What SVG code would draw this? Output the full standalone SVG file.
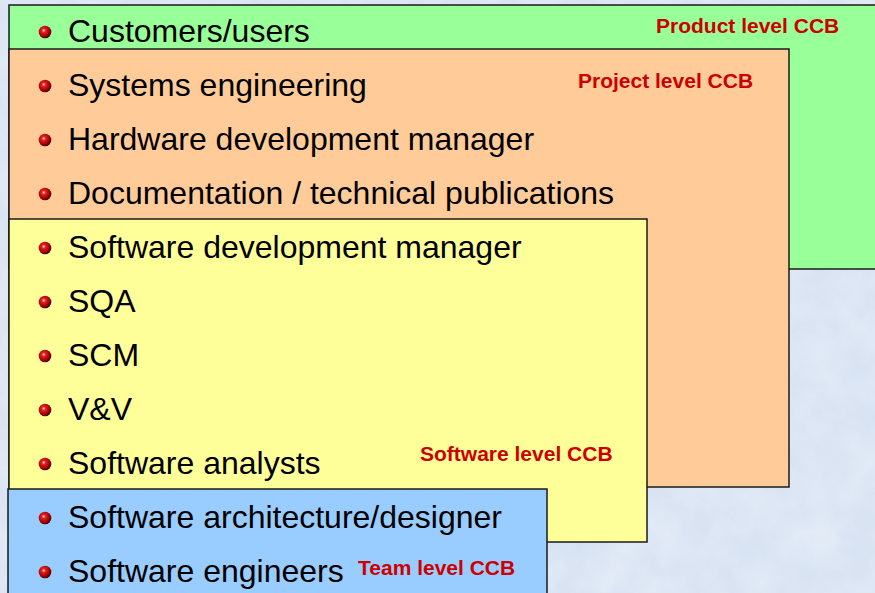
<svg xmlns="http://www.w3.org/2000/svg" width="875" height="593" viewBox="0 0 875 593">
<style>
.item{font-family:"Liberation Sans",Arial,sans-serif;font-size:32px;fill:#000}
.lbl{font-family:"Liberation Sans",Arial,sans-serif;font-size:21px;font-weight:bold;fill:#cc0000}
.box{stroke:#1a1a1a;stroke-width:1.5}
.ball{fill:url(#ball)}
</style>
<defs>
<radialGradient id="ball" cx="0.4" cy="0.38" r="0.62">
<stop offset="0" stop-color="#ffe0e0"/>
<stop offset="0.25" stop-color="#e82020"/>
<stop offset="0.75" stop-color="#a00000"/>
<stop offset="1" stop-color="#400000"/>
</radialGradient>
<filter id="marble" x="0" y="0" width="100%" height="100%">
<feTurbulence type="fractalNoise" baseFrequency="0.025" numOctaves="4" seed="3"/>
<feColorMatrix type="matrix" values="0 0 0 0 1  0 0 0 0 1  0 0 0 0 1  0 0 0 0.7 0"/>
</filter>
</defs>
<rect width="875" height="593" fill="#d3dff1"/>
<rect width="875" height="593" filter="url(#marble)" opacity="0.6"/>
<g id="product-ccb">
<rect class="box" x="9" y="5" width="875" height="264" fill="#99ff99"/>
<text class="lbl" x="656" y="33">Product level CCB</text>
</g>
<g id="project-ccb">
<rect class="box" x="9" y="49" width="780" height="438" fill="#ffcc99"/>
<text class="lbl" x="578" y="88">Project level CCB</text>
</g>
<g id="software-ccb">
<rect class="box" x="9" y="219" width="638" height="323" fill="#ffff99"/>
<text class="lbl" x="420" y="461">Software level CCB</text>
</g>
<g id="team-ccb">
<rect class="box" x="8" y="489" width="539" height="110" fill="#99ccff"/>
<text class="lbl" x="358" y="575">Team level CCB</text>
</g>
<g id="items">
<circle class="ball" cx="45" cy="32" r="6.3"/><text class="item" x="68" y="42">Customers/users</text>
<circle class="ball" cx="45" cy="86" r="6.3"/><text class="item" x="68" y="96">Systems engineering</text>
<circle class="ball" cx="45" cy="140" r="6.3"/><text class="item" x="68" y="150">Hardware development manager</text>
<circle class="ball" cx="45" cy="194" r="6.3"/><text class="item" x="68" y="204">Documentation / technical publications</text>
<circle class="ball" cx="45" cy="248" r="6.3"/><text class="item" x="68" y="258">Software development manager</text>
<circle class="ball" cx="45" cy="302" r="6.3"/><text class="item" x="68" y="312">SQA</text>
<circle class="ball" cx="45" cy="356" r="6.3"/><text class="item" x="68" y="366">SCM</text>
<circle class="ball" cx="45" cy="410" r="6.3"/><text class="item" x="68" y="420">V&amp;V</text>
<circle class="ball" cx="45" cy="464" r="6.3"/><text class="item" x="68" y="474">Software analysts</text>
<circle class="ball" cx="45" cy="518" r="6.3"/><text class="item" x="68" y="528">Software architecture/designer</text>
<circle class="ball" cx="45" cy="572" r="6.3"/><text class="item" x="68" y="582">Software engineers</text>
</g>
</svg>
